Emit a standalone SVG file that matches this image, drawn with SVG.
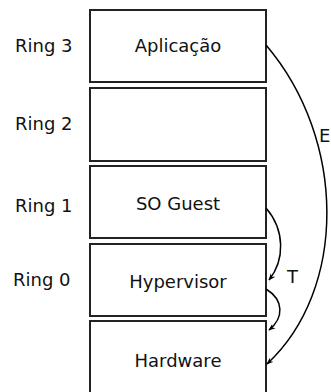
<svg xmlns="http://www.w3.org/2000/svg" width="331" height="392" viewBox="0 0 331 392">
<style>
.box{fill:#fff;stroke:#222;stroke-width:2}
.t{font-family:"DejaVu Sans",Verdana,sans-serif;font-size:18px;fill:#111}
.c{text-anchor:middle}
.e{fill:none;stroke:#000;stroke-width:1.5}
</style>
<defs>
<marker id="ah" viewBox="0 0 10 10" refX="9" refY="5" markerWidth="7" markerHeight="7" orient="auto" markerUnits="userSpaceOnUse">
<path d="M0,1 L10,5 L0,9 L3,5 Z" fill="#000"/>
</marker>
</defs>
<rect width="331" height="392" fill="#fff"/>
<g id="ring3">
<rect class="box" x="90" y="10" width="176" height="72"/>
<text class="t c" x="178" y="52">Aplicação</text>
<text class="t" x="15" y="52">Ring 3</text>
</g>
<g id="ring2">
<rect class="box" x="90" y="88" width="176" height="73"/>
<text class="t" x="15" y="130">Ring 2</text>
</g>
<g id="ring1">
<rect class="box" x="90" y="166" width="176" height="72"/>
<text class="t c" x="178" y="210">SO Guest</text>
<text class="t" x="15" y="212">Ring 1</text>
</g>
<g id="ring0">
<rect class="box" x="90" y="244" width="176" height="72"/>
<text class="t c" x="178" y="288">Hypervisor</text>
<text class="t" x="13" y="286">Ring 0</text>
</g>
<g id="hardware">
<rect class="box" x="90" y="321" width="176" height="80"/>
<text class="t c" x="178" y="367">Hardware</text>
</g>
<g id="connectors">
<path class="e" d="M266,45 C347,140 347,290 267,364" marker-end="url(#ah)"/>
<path class="e" d="M266,208 C285,230 285,260 269,280" marker-end="url(#ah)"/>
<path class="e" d="M266,289 C284,300 284,318 269,330" marker-end="url(#ah)"/>
<text class="t" x="319" y="142">E</text>
<text class="t" x="287" y="283">T</text>
</g>
</svg>
